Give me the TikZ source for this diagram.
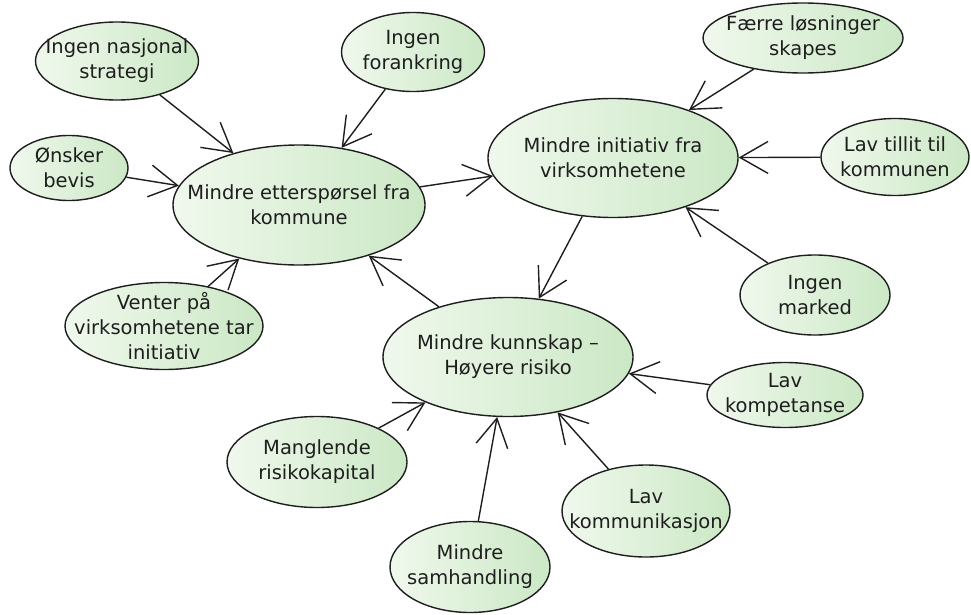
\documentclass[tikz,border=0pt]{standalone}
\usepackage{fontspec}
\setmainfont{DejaVu Sans}
\usetikzlibrary{shapes.geometric,arrows.meta}
\definecolor{leafpale}{RGB}{240,248,237}
\definecolor{leafdark}{RGB}{203,232,197}
\definecolor{ink}{RGB}{30,30,30}
\tikzstyle{idea}=[ellipse,draw=ink,line width=1.4pt,left color=leafpale,right color=leafdark,inner sep=0pt]
\tikzstyle{ideatext}=[align=center,text=ink,inner sep=0pt,font=\fontsize{19.5}{25}\selectfont]
\tikzstyle{cause}=[ink,line width=1.4pt,-{Straight Barb[length=28pt,width=32pt]}]
\newcommand{\ideanode}[5]{
	\node[idea,minimum width=#3,minimum height=#4] (#1) at (#2) {};
	\node[ideatext] at (#1) {#5};
}
\newcommand{\drawarrows}[2][\empty]{
	\foreach \a/\b in {#2}{
		\draw[#1] (\a) edge (\b);
	}
}

\begin{document}
\begin{tikzpicture}[x=1pt,y=-1pt]
\useasboundingbox (0,0) rectangle (971,615);

% main effects
\ideanode{ettersp}{299,205}{252}{120}{Mindre etterspørsel fra\\kommune}
\ideanode{initiativ}{613,158}{250}{119}{Mindre initiativ fra\\virksomhetene}
\ideanode{kunnskap}{508,357}{250}{119}{Mindre kunnskap –\\Høyere risiko}

% causes
\ideanode{nasjonal}{117,61}{163}{78}{Ingen nasjonal\\strategi}
\ideanode{forankring}{413,52}{143}{79}{Ingen\\forankring}
\ideanode{bevis}{69,168}{118}{65}{Ønsker\\bevis}
\ideanode{venter}{164,326}{198}{87}{Venter på\\virksomhetene tar\\initiativ}
\ideanode{faerre}{803,38}{200}{70}{Færre løsninger\\skapes}
\ideanode{tillit}{895,157}{148}{77}{Lav tillit til\\kommunen}
\ideanode{marked}{815,295}{150}{80}{Ingen\\marked}
\ideanode{kompetanse}{785,395}{156}{65}{Lav\\kompetanse}
\ideanode{kapital}{317,462}{180}{91}{Manglende\\risikokapital}
\ideanode{samhandling}{470,567}{160}{91}{Mindre\\samhandling}
\ideanode{kommunikasjon}{646,511}{168}{92}{Lav\\kommunikasjon}

\drawarrows[cause]{nasjonal/ettersp,forankring/ettersp,bevis/ettersp,venter/ettersp,kunnskap/ettersp}
\drawarrows[cause]{ettersp/initiativ,faerre/initiativ,tillit/initiativ,marked/initiativ}
\drawarrows[cause]{initiativ/kunnskap,kompetanse/kunnskap,kapital/kunnskap,samhandling/kunnskap,kommunikasjon/kunnskap}
\end{tikzpicture}
\end{document}
